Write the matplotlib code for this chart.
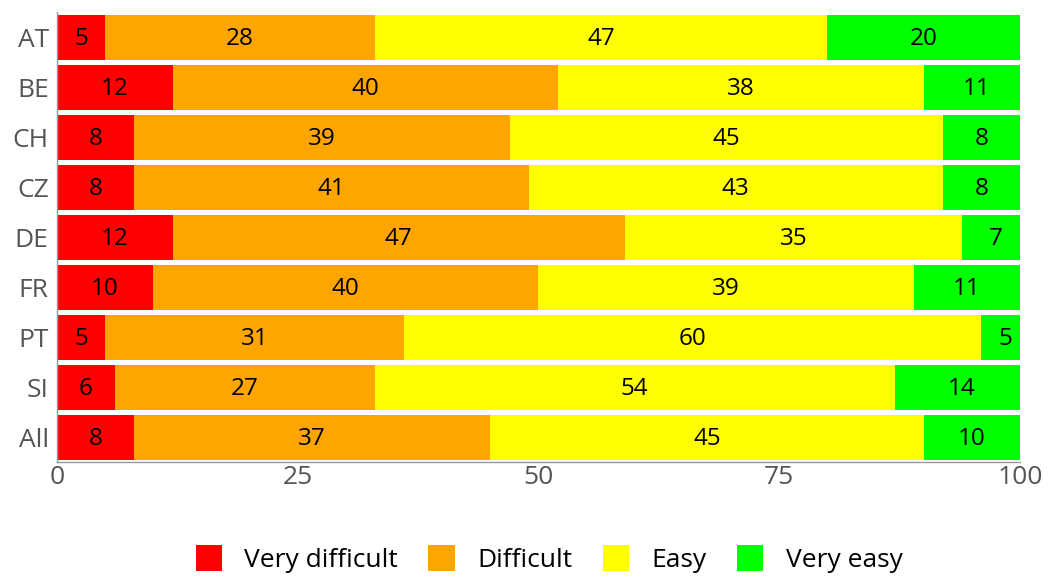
import matplotlib.pyplot as plt
import numpy as np

plt.rcParams['font.family'] = ['Open Sans', 'DejaVu Sans']

countries = ['AT', 'BE', 'CH', 'CZ', 'DE', 'FR', 'PT', 'SI', 'All']
very_difficult = [5, 12, 8, 8, 12, 10, 5, 6, 8]
difficult = [28, 40, 39, 41, 47, 40, 31, 27, 37]
easy = [47, 38, 45, 43, 35, 39, 60, 54, 45]
very_easy = [20, 11, 8, 8, 7, 11, 5, 14, 10]

series = [very_difficult, difficult, easy, very_easy]
names = ['Very difficult', 'Difficult', 'Easy', 'Very easy']
colors = ['#ff0000', '#ffa500', '#ffff00', '#00ff00']

fig = plt.figure(figsize=(10.5, 5.77), dpi=100)
ax = fig.add_axes([0.0543, 0.199, 0.917, 0.780])

y = np.arange(len(countries))
left = np.zeros(len(countries))
for vals, name, c in zip(series, names, colors):
    vals = np.array(vals, dtype=float)
    ax.barh(y, vals, left=left, height=0.9, color=c, label=name,
            edgecolor='none')
    # value label in the middle of each segment
    for yi, l, v in zip(y, left, vals):
        ax.text(l + v / 2, yi + 0.04, str(int(v)), ha='center', va='center',
                fontsize=17.5, color='black', fontweight='medium')
    left += vals

ax.set_xlim(0, 100)
ax.set_ylim(len(countries) - 0.5, -0.5)
ax.set_yticks(y)
ax.set_yticklabels(countries)
ax.set_xticks([0, 25, 50, 75, 100])
ax.tick_params(axis='both', length=0, labelsize=19, colors='#555555')
ax.tick_params(axis='y', pad=6)
ax.tick_params(axis='x', pad=2)
for side in ['top', 'right']:
    ax.spines[side].set_visible(False)
for side in ['left', 'bottom']:
    ax.spines[side].set_color('#999999')
    ax.spines[side].set_linewidth(1)

fig.legend(loc='lower center', bbox_to_anchor=(0.523, -0.034), ncol=4,
           frameon=False, fontsize=19, handlelength=1.0, handleheight=1.1,
           handletextpad=0.85, columnspacing=1.15)

fig.savefig('out.png', dpi=100)
